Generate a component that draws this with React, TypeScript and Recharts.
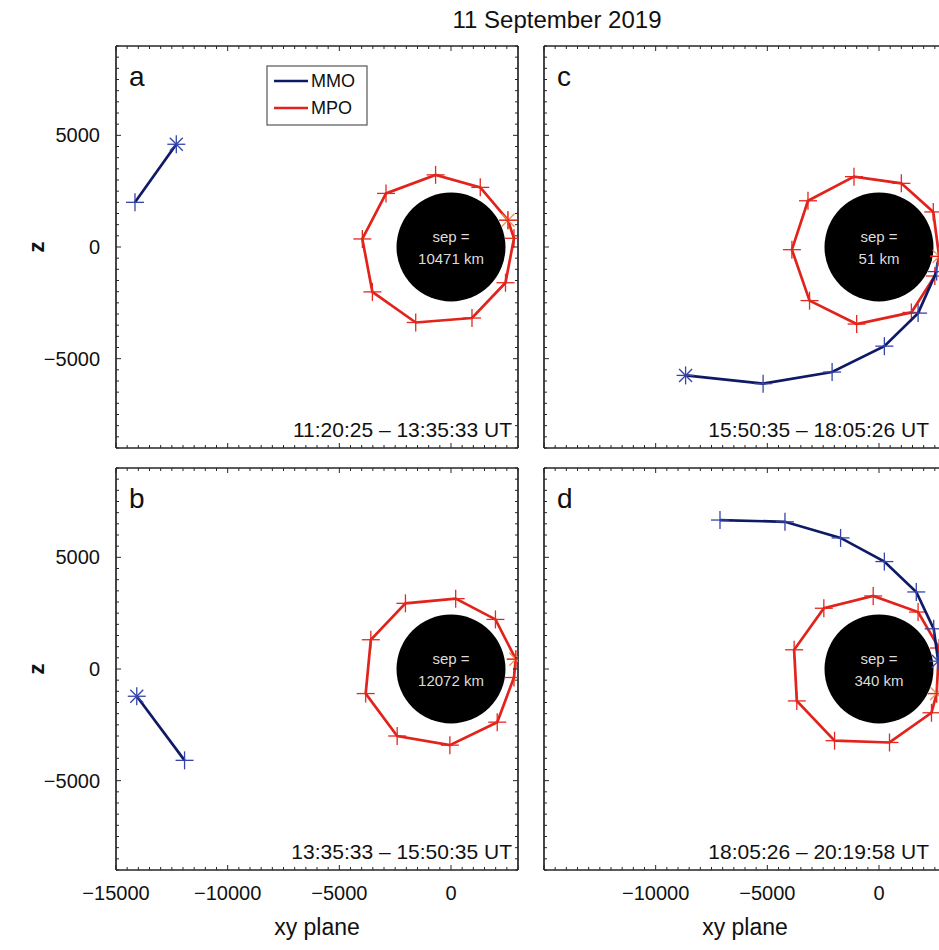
import React from 'react';
import { ScatterChart, Scatter, XAxis, YAxis } from 'recharts';

type Pt = { x: number; z: number };

const X_DOMAIN: [number, number] = [-15000, 3000];
const Z_DOMAIN: [number, number] = [-9000, 9000];
const MERCURY_R = 2440;

const xLabelsLeft = [-15000, -10000, -5000, 0];
const xLabelsRight = [-10000, -5000, 0];
const zLabels = [-5000, 0, 5000];
const MINOR_STEP = 500;

// first point of each track is the start (drawn as an asterisk)
const mmoA: Pt[] = [{ x: -12300, z: 4600 }, { x: -14150, z: 2000 }];
const mmoB: Pt[] = [{ x: -14070, z: -1220 }, { x: -11930, z: -4090 }];
const mmoC: Pt[] = [
  { x: -8660, z: -5750 }, { x: -5190, z: -6120 }, { x: -2100, z: -5600 },
  { x: 240, z: -4440 }, { x: 1750, z: -2960 }, { x: 2580, z: -1100 },
];
const mmoD: Pt[] = [
  { x: 2650, z: 350 }, { x: 2450, z: 1800 }, { x: 1670, z: 3450 }, { x: 240, z: 4810 },
  { x: -1720, z: 5870 }, { x: -4210, z: 6590 }, { x: -7120, z: 6670 },
];

const mpoA: Pt[] = [
  { x: 2550, z: 1200 }, { x: 2820, z: 390 }, { x: 2440, z: -1600 }, { x: 940, z: -3180 },
  { x: -1580, z: -3380 }, { x: -3520, z: -2010 }, { x: -3970, z: 360 }, { x: -2910, z: 2400 },
  { x: -690, z: 3230 }, { x: 1310, z: 2670 }, { x: 2550, z: 1200 },
];
const mpoB: Pt[] = [
  { x: 2900, z: 440 }, { x: 2820, z: -380 }, { x: 2070, z: -2380 }, { x: -50, z: -3410 },
  { x: -2410, z: -3000 }, { x: -3820, z: -1100 }, { x: -3590, z: 1310 }, { x: -2040, z: 2940 },
  { x: 210, z: 3150 }, { x: 1990, z: 2220 }, { x: 2900, z: 440 },
];
const mpoC: Pt[] = [
  { x: 2690, z: -420 }, { x: 2500, z: -1300 }, { x: 1450, z: -2930 }, { x: -1000, z: -3450 },
  { x: -3110, z: -2400 }, { x: -3900, z: -120 }, { x: -3180, z: 2070 }, { x: -1120, z: 3150 },
  { x: 1000, z: 2850 }, { x: 2430, z: 1570 }, { x: 2690, z: -420 },
];
const mpoD: Pt[] = [
  { x: 2580, z: -1100 }, { x: 2350, z: -1960 }, { x: 470, z: -3290 }, { x: -1990, z: -3210 },
  { x: -3680, z: -1430 }, { x: -3800, z: 860 }, { x: -2470, z: 2720 }, { x: -260, z: 3270 },
  { x: 1750, z: 2550 }, { x: 2690, z: 940 }, { x: 2580, z: -1100 },
];

const mercury: Pt[] = [{ x: 0, z: 0 }];

const letters = ['a', 'b', 'c', 'd'];
const separations = ['10471 km', '12072 km', '51 km', '340 km'];
const intervals = [
  '11:20:25 \u2013 13:35:33 UT',
  '13:35:33 \u2013 15:50:35 UT',
  '15:50:35 \u2013 18:05:26 UT',
  '18:05:26 \u2013 20:19:58 UT',
];

const ticksFor = (d: [number, number]) => {
  const out: number[] = [];
  for (let v = d[0]; v <= d[1]; v += MINOR_STEP) out.push(v);
  return out;
};
const xTicks = ticksFor(X_DOMAIN);
const zTicks = ticksFor(Z_DOMAIN);

const PLOT = 402;
const PAD_L = 116;
const PAD_R = 12;
const PAD_T = 12;
const PAD_B = 80;
const MARK = 9;

const NAVY = '#0e1a66';
const NAVY_MARK = '#3544a8';
const RED = '#e1231b';
const RED_MARK = '#e4281f';
const ORANGE = '#f38a4d';
const AXIS = '#262626';
const FONT = "'Liberation Sans', Arial, Helvetica, sans-serif";

const fmt = (n: number) => (n < 0 ? '\u2212' + Math.abs(n) : String(n));

function frameTick(side: 'bottom' | 'top' | 'left' | 'right', labels: number[]) {
  return (props: any) => {
    const { x, y, payload } = props;
    const v = payload.value as number;
    const len = v % 5000 === 0 ? 5 : 3;
    const show = labels.includes(v);
    const txt = { fontFamily: FONT, fontSize: 20, fill: '#111' };
    if (side === 'bottom')
      return (
        <g>
          <line x1={x} y1={y} x2={x} y2={y - len} stroke={AXIS} />
          {show && <text x={x} y={y + 30} textAnchor="middle" {...txt}>{fmt(v)}</text>}
        </g>
      );
    if (side === 'top') return <line x1={x} y1={y} x2={x} y2={y + len} stroke={AXIS} />;
    if (side === 'left')
      return (
        <g>
          <line x1={x} y1={y} x2={x + len} y2={y} stroke={AXIS} />
          {show && <text x={x - 16} y={y + 7} textAnchor="end" {...txt}>{fmt(v)}</text>}
        </g>
      );
    return <line x1={x} y1={y} x2={x - len} y2={y} stroke={AXIS} />;
  };
}

function trackMarker(first: Pt, markColor: string, startColor: string) {
  return (props: any) => {
    const { cx, cy, payload, index } = props;
    if (cx == null || cy == null) return <g />;
    const start = payload === first || index === 0;
    const d = 6.5;
    return (
      <g stroke={start ? startColor : markColor} strokeWidth={1.3} fill="none">
        <line x1={cx - MARK} y1={cy} x2={cx + MARK} y2={cy} />
        <line x1={cx} y1={cy - MARK} x2={cx} y2={cy + MARK} />
        {start && <line x1={cx - d} y1={cy - d} x2={cx + d} y2={cy + d} />}
        {start && <line x1={cx - d} y1={cy + d} x2={cx + d} y2={cy - d} />}
      </g>
    );
  };
}

function planetShape(sep: string) {
  return (props: any) => {
    const { cx, cy } = props;
    if (cx == null || cy == null) return <g />;
    const r = (MERCURY_R * PLOT) / (X_DOMAIN[1] - X_DOMAIN[0]);
    return (
      <g>
        <circle cx={cx} cy={cy} r={r} fill="#000" />
        <text x={cx} y={cy - 5} textAnchor="middle" fontFamily={FONT} fontSize={15} fill="#dcdcdc">sep =</text>
        <text x={cx} y={cy + 17} textAnchor="middle" fontFamily={FONT} fontSize={15} fill="#dcdcdc">{sep}</text>
      </g>
    );
  };
}

type PanelProps = {
  idx: number;
  mmo: Pt[];
  mpo: Pt[];
  plotLeft: number;
  plotTop: number;
  leftCol: boolean;
  bottomRow: boolean;
  legend?: boolean;
};

function Panel({ idx, mmo, mpo, plotLeft, plotTop, leftCol, bottomRow, legend }: PanelProps) {
  const width = PAD_L + PLOT + PAD_R;
  const height = PAD_T + PLOT + PAD_B;
  const xLabels = bottomRow ? (leftCol ? xLabelsLeft : xLabelsRight) : [];
  const yLabels = leftCol ? zLabels : [];
  const timeRight = PAD_L + PLOT - (leftCol ? 6 : 17);
  return (
    <div style={{ position: 'absolute', left: plotLeft - PAD_L, top: plotTop - PAD_T, width, height }}>
      <ScatterChart width={width} height={height} margin={{ top: PAD_T - 2, right: PAD_R - 2, bottom: 0, left: 0 }}>
        <XAxis
          type="number" dataKey="x" domain={X_DOMAIN} allowDataOverflow ticks={xTicks} interval={0}
          height={PAD_B} tickSize={0} tickMargin={0} tickLine={false}
          axisLine={{ stroke: AXIS, strokeWidth: 1.7 }} tick={frameTick('bottom', xLabels)}
          label={bottomRow ? {
            content: (lp: any) => {
              const vb = lp.viewBox || {};
              return (
                <text x={vb.x + vb.width / 2} y={vb.y + 65} textAnchor="middle" fontFamily={FONT} fontSize={23} fill="#111">xy plane</text>
              );
            },
          } : undefined}
        />
        <XAxis
          xAxisId="top" orientation="top" type="number" dataKey="x" domain={X_DOMAIN} allowDataOverflow
          ticks={xTicks} interval={0} height={2} tickSize={0} tickMargin={0} tickLine={false}
          axisLine={{ stroke: AXIS, strokeWidth: 1.7 }} tick={frameTick('top', [])}
        />
        <YAxis
          type="number" dataKey="z" domain={Z_DOMAIN} allowDataOverflow ticks={zTicks} interval={0}
          width={PAD_L} tickSize={0} tickMargin={0} tickLine={false}
          axisLine={{ stroke: AXIS, strokeWidth: 1.7 }} tick={frameTick('left', yLabels)}
          label={leftCol ? {
            content: (lp: any) => {
              const vb = lp.viewBox || {};
              const cx = vb.x + 36;
              const cy = vb.y + vb.height / 2;
              return (
                <text x={cx} y={cy} transform={`rotate(-90 ${cx} ${cy})`} textAnchor="middle" dominantBaseline="central" fontFamily={FONT} fontSize={22} fontWeight="bold" fill="#111">z</text>
              );
            },
          } : undefined}
        />
        <YAxis
          yAxisId="right" orientation="right" type="number" dataKey="z" domain={Z_DOMAIN} allowDataOverflow
          ticks={zTicks} interval={0} width={2} tickSize={0} tickMargin={0} tickLine={false}
          axisLine={{ stroke: AXIS, strokeWidth: 1.7 }} tick={frameTick('right', [])}
        />
        <Scatter data={mercury} dataKey="z" fill="#000" shape={planetShape(separations[idx])} isAnimationActive={false} />
        <Scatter
          xAxisId="top" yAxisId="right" data={mercury} dataKey="z" fill="none"
          shape={() => <g />} isAnimationActive={false}
        />
        <Scatter
          data={mpo} dataKey="z" fill={RED} line={{ stroke: RED, strokeWidth: 2.7 }} lineType="joint"
          shape={trackMarker(mpo[0], RED_MARK, ORANGE)} isAnimationActive={false}
        />
        <Scatter
          data={mmo} dataKey="z" fill={NAVY} line={{ stroke: NAVY, strokeWidth: 2.7 }} lineType="joint"
          shape={trackMarker(mmo[0], NAVY_MARK, NAVY_MARK)} isAnimationActive={false}
        />
      </ScatterChart>
      <svg width={width} height={height} style={{ position: 'absolute', left: 0, top: 0, pointerEvents: 'none' }}>
        <text x={PAD_L + 13} y={PAD_T + 40} fontFamily={FONT} fontSize={28} fill="#111">{letters[idx]}</text>
        <text x={timeRight} y={PAD_T + PLOT - 11} textAnchor="end" fontFamily={FONT} fontSize={21} fill="#111">{intervals[idx]}</text>
        {legend && (
          <g>
            <rect x={PAD_L + 151} y={PAD_T + 20} width={100} height={59} fill="#fff" stroke="#555" strokeWidth={1.2} />
            <line x1={PAD_L + 158} x2={PAD_L + 192} y1={PAD_T + 35} y2={PAD_T + 35} stroke={NAVY} strokeWidth={2.6} />
            <text x={PAD_L + 195} y={PAD_T + 41} fontFamily={FONT} fontSize={18} fill="#111">MMO</text>
            <line x1={PAD_L + 158} x2={PAD_L + 192} y1={PAD_T + 62} y2={PAD_T + 62} stroke={RED} strokeWidth={2.6} />
            <text x={PAD_L + 195} y={PAD_T + 68} fontFamily={FONT} fontSize={18} fill="#111">MPO</text>
          </g>
        )}
      </svg>
    </div>
  );
}

export default function App() {
  return (
    <div style={{ position: 'absolute', left: 0, top: 0, width: 939, height: 950, overflow: 'hidden', background: '#fff' }}>
      <div style={{ position: 'absolute', left: 0, top: 0, width: 939, height: 40 }}>
        <svg width={939} height={40}>
          <text x={557} y={28} textAnchor="middle" fontFamily={FONT} fontSize={24} fill="#111">11 September 2019</text>
        </svg>
      </div>
      <Panel idx={0} mmo={mmoA} mpo={mpoA} plotLeft={116} plotTop={46} leftCol bottomRow={false} legend />
      <Panel idx={1} mmo={mmoB} mpo={mpoB} plotLeft={116} plotTop={468} leftCol bottomRow />
      <Panel idx={2} mmo={mmoC} mpo={mpoC} plotLeft={544} plotTop={46} leftCol={false} bottomRow={false} />
      <Panel idx={3} mmo={mmoD} mpo={mpoD} plotLeft={544} plotTop={468} leftCol={false} bottomRow />
    </div>
  );
}
